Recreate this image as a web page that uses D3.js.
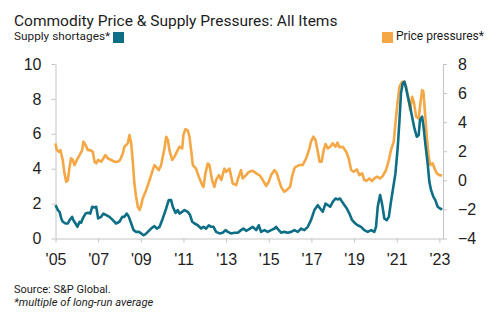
<!DOCTYPE html>
<html>
<head>
<meta charset="utf-8">
<script src="https://cdn.jsdelivr.net/npm/d3@7"></script>
<style>
  body { margin: 0; background: #fff; }
  .axis path, .axis line { stroke: #c4c4c4; }
  .axis text { font-family: "Liberation Sans", Arial, sans-serif; font-size: 16px; fill: #1e1e1e; }
</style>
</head>
<body>
<div id="chart"></div>
<script>
// supply shortages (left axis), multiple of long-run average
const supplyYears = [2005.00, 2005.11, 2005.19, 2005.27, 2005.34, 2005.47, 2005.58, 2005.66, 2005.78, 2005.84, 2005.94,
  2006.03, 2006.13, 2006.20, 2006.28, 2006.41, 2006.52, 2006.63, 2006.72, 2006.83, 2006.91,
  2007.00, 2007.14, 2007.25, 2007.38, 2007.53, 2007.69, 2007.84, 2008.00, 2008.13, 2008.23, 2008.34, 2008.44, 2008.55,
  2008.66, 2008.78, 2008.91, 2009.02, 2009.13, 2009.22, 2009.33, 2009.48, 2009.64, 2009.75, 2009.88,
  2010.03, 2010.19, 2010.31, 2010.42, 2010.50, 2010.63, 2010.73, 2010.81, 2010.94, 2011.05, 2011.20, 2011.31, 2011.41,
  2011.52, 2011.67, 2011.83, 2011.94, 2012.06, 2012.19, 2012.30, 2012.41, 2012.53, 2012.69, 2012.84, 2012.97,
  2013.08, 2013.23, 2013.39, 2013.55, 2013.70, 2013.81, 2013.94, 2014.06, 2014.25, 2014.41, 2014.53, 2014.64, 2014.80, 2014.95,
  2015.11, 2015.27, 2015.34, 2015.47, 2015.58, 2015.73, 2015.89, 2016.05, 2016.20, 2016.36, 2016.52, 2016.67, 2016.83, 2016.98,
  2017.14, 2017.30, 2017.41, 2017.53, 2017.66, 2017.77, 2017.88, 2018.00, 2018.13, 2018.23, 2018.34, 2018.44, 2018.55,
  2018.66, 2018.78, 2018.91, 2019.06, 2019.17, 2019.33, 2019.48, 2019.64, 2019.80, 2019.95, 2020.03, 2020.11, 2020.22,
  2020.31, 2020.42, 2020.53, 2020.63, 2020.73, 2020.84, 2020.94, 2021.05, 2021.13, 2021.20, 2021.28, 2021.36, 2021.44,
  2021.52, 2021.63, 2021.72, 2021.83, 2021.94, 2022.03, 2022.09, 2022.19, 2022.25, 2022.34, 2022.45, 2022.53, 2022.61,
  2022.72, 2022.81, 2022.92, 2023.03, 2023.13];
const supplyValues = [1.91, 1.63, 1.53, 1.15, 0.96, 0.86, 0.86, 1.05, 1.24, 1.05, 0.86,
  0.67, 0.96, 0.90, 1.15, 1.43, 1.47, 1.43, 1.82, 1.78, 1.82,
  1.15, 1.24, 1.43, 1.34, 1.24, 1.05, 0.86, 0.96, 1.24, 1.24, 1.43, 1.24, 0.86,
  0.48, 0.38, 0.38, 0.29, 0.19, 0.25, 0.38, 0.57, 0.71, 0.57, 0.67,
  1.15, 1.72, 2.20, 2.20, 1.82, 1.47, 1.63, 1.43, 1.53, 1.63, 1.53, 1.34, 0.96,
  0.86, 0.76, 0.57, 0.67, 0.57, 0.76, 0.67, 0.67, 0.38, 0.29, 0.33, 0.48,
  0.38, 0.29, 0.33, 0.33, 0.48, 0.57, 0.44, 0.52, 0.67, 0.48, 0.76, 0.38, 0.48, 0.38,
  0.48, 0.57, 0.67, 0.48, 0.33, 0.38, 0.33, 0.38, 0.48, 0.38, 0.57, 0.48, 0.67, 1.05,
  1.63, 1.91, 1.72, 1.53, 2.00, 1.91, 1.82, 2.10, 2.29, 2.24, 2.29, 2.10, 1.91,
  1.72, 1.43, 1.05, 0.86, 0.76, 0.67, 0.48, 0.38, 0.48, 0.38, 0.67, 1.82, 2.49,
  2.00, 1.15, 1.05, 1.24, 2.10, 2.96, 3.73, 5.26, 6.79, 8.32, 8.89, 8.99, 8.60,
  8.13, 7.55, 6.98, 6.31, 5.83, 5.93, 6.79, 6.98, 6.50, 5.45, 4.30, 3.25, 2.77,
  2.39, 2.20, 1.82, 1.72, 1.66];

// price pressures (right axis)
const priceYears = [2005.00, 2005.06, 2005.16, 2005.23, 2005.34, 2005.42, 2005.50, 2005.58, 2005.66, 2005.73, 2005.81, 2005.89,
  2006.00, 2006.13, 2006.25, 2006.31, 2006.41, 2006.52, 2006.63, 2006.75, 2006.83, 2006.91,
  2007.00, 2007.14, 2007.25, 2007.34, 2007.45, 2007.61, 2007.77, 2007.92, 2008.03, 2008.16, 2008.23, 2008.39, 2008.47, 2008.55,
  2008.63, 2008.70, 2008.78, 2008.86, 2008.94, 2009.02, 2009.09, 2009.25, 2009.41, 2009.56, 2009.64, 2009.72, 2009.84, 2009.95,
  2010.03, 2010.11, 2010.19, 2010.27, 2010.34, 2010.47, 2010.58, 2010.69, 2010.81, 2010.94, 2011.00, 2011.09, 2011.20, 2011.28,
  2011.36, 2011.44, 2011.59, 2011.72, 2011.88, 2011.94, 2012.03, 2012.14, 2012.22, 2012.34, 2012.45, 2012.53, 2012.66, 2012.77,
  2012.92, 2013.00, 2013.16, 2013.31, 2013.47, 2013.59, 2013.70, 2013.78, 2013.94, 2014.06, 2014.25, 2014.41, 2014.56, 2014.72,
  2014.88, 2015.00, 2015.11, 2015.27, 2015.38, 2015.50, 2015.61, 2015.73, 2015.84, 2016.00, 2016.09, 2016.20, 2016.28, 2016.44,
  2016.59, 2016.75, 2016.91, 2016.98, 2017.09, 2017.19, 2017.30, 2017.38, 2017.48, 2017.56, 2017.66, 2017.77, 2017.88, 2018.00,
  2018.13, 2018.22, 2018.31, 2018.47, 2018.63, 2018.75, 2018.86, 2018.98, 2019.13, 2019.25, 2019.38, 2019.48, 2019.59, 2019.72,
  2019.84, 2019.95, 2020.08, 2020.22, 2020.34, 2020.50, 2020.63, 2020.73, 2020.86, 2020.97, 2021.05, 2021.13, 2021.25, 2021.36,
  2021.44, 2021.52, 2021.63, 2021.72, 2021.80, 2021.91, 2022.03, 2022.11, 2022.19, 2022.25, 2022.34, 2022.41, 2022.50, 2022.58,
  2022.69, 2022.77, 2022.88, 2023.00, 2023.13];
const priceValues = [2.54, 2.08, 1.96, 2.08, 1.40, 0.48, -0.10, 0.02, 0.92, 1.52, 1.40, 1.04,
  1.40, 1.74, 2.08, 2.66, 2.42, 2.08, 2.08, 1.96, 1.28, 1.16,
  1.40, 1.28, 1.52, 1.74, 1.52, 1.40, 1.28, 1.28, 1.40, 1.86, 2.31, 2.54, 3.12, 2.54,
  1.16, -0.22, -1.13, -1.82, -2.04, -1.71, -1.25, -0.68, 0.02, 0.70, 1.04, 0.92, 0.70, 1.04,
  1.62, 2.19, 3.00, 2.77, 2.08, 1.40, 1.62, 1.96, 2.31, 2.19, 3.12, 3.52, 3.44, 3.00,
  2.08, 1.04, 0.80, 0.25, -0.33, -0.45, 0.48, 1.16, 1.04, 0.02, -0.45, 0.02, 0.36, 0.02,
  0.80, 0.58, 0.80, -0.22, -0.33, 0.25, 0.70, 0.13, 0.36, 0.58, 0.66, 0.48, 0.36, 0.02,
  -0.39, -0.10, 0.36, 0.71, 0.48, -0.10, -0.55, -0.78, -0.67, -0.44, 0.25, 0.82, 0.94, 1.05,
  1.05, 1.50, 2.20, 2.66, 3.00, 2.77, 1.97, 1.28, 1.28, 1.97, 2.50, 2.20, 2.31, 2.54,
  2.31, 2.59, 2.27, 2.31, 1.97, 1.50, 0.71, 0.59, 0.75, 0.36, 0.48, 0.02, -0.03, 0.13,
  -0.05, 0.13, 0.25, 0.13, 0.29, 0.71, 1.39, 2.08, 2.66, 4.38, 5.52, 6.44, 6.78, 6.78,
  6.44, 5.87, 4.83, 5.75, 5.41, 4.38, 4.26, 5.29, 6.20, 6.10, 4.38, 3.00, 1.62, 1.05,
  1.17, 0.82, 0.48, 0.36, 0.34];

const xTickYears = [2005, 2007, 2009, 2011, 2013, 2015, 2017, 2019, 2021, 2023];
const leftTicks = [0, 2, 4, 6, 8, 10];
const rightTicks = [-4, -2, 0, 2, 4, 6, 8];

const supplyColor = '#0d6e86';
const priceColor = '#f4a744';

const width = 500, height = 321;
const plot = { left: 55.5, right: 443, top: 64, bottom: 238.5 };

const svg = d3.select('#chart').append('svg')
    .attr('width', width)
    .attr('height', height);

svg.append('rect').attr('width', width).attr('height', height).attr('fill', '#fff');

const xScale = d3.scaleLinear().domain([2005, 2023.17]).range([plot.left, plot.right]);
const yLeft = d3.scaleLinear().domain([0, 10]).range([plot.bottom, plot.top]);
const yRight = d3.scaleLinear().domain([-4, 8]).range([plot.bottom, plot.top]);

// axes
svg.append('g')
    .attr('class', 'axis')
    .attr('transform', `translate(0, ${plot.bottom})`)
    .call(d3.axisBottom(xScale).tickValues(xTickYears).tickSize(4).tickSizeOuter(0).tickPadding(11)
        .tickFormat((d) => "'" + String(d).slice(2)));
svg.append('g')
    .attr('class', 'axis')
    .attr('transform', `translate(${plot.left}, 0)`)
    .call(d3.axisLeft(yLeft).tickValues(leftTicks).tickSize(4).tickSizeOuter(0).tickPadding(10));
svg.append('g')
    .attr('class', 'axis')
    .attr('transform', `translate(${plot.right}, 0)`)
    .call(d3.axisRight(yRight).tickValues(rightTicks).tickSize(4).tickSizeOuter(0).tickPadding(11));

// lines
const priceLine = d3.line()
    .x((d, i) => xScale(priceYears[i]))
    .y((d) => yRight(d));
const supplyLine = d3.line()
    .x((d, i) => xScale(supplyYears[i]))
    .y((d) => yLeft(d));

svg.append('path')
    .datum(priceValues)
    .attr('d', priceLine)
    .attr('fill', 'none')
    .attr('stroke', priceColor)
    .attr('stroke-width', 2.6)
    .attr('stroke-linejoin', 'round');
svg.append('path')
    .datum(supplyValues)
    .attr('d', supplyLine)
    .attr('fill', 'none')
    .attr('stroke', supplyColor)
    .attr('stroke-width', 2.6)
    .attr('stroke-linejoin', 'round');

// title and legend
const font = 'Roboto, "Liberation Sans", sans-serif';
svg.append('text')
    .attr('x', 14).attr('y', 26)
    .attr('font-family', font).attr('font-size', 15.5).attr('fill', '#1c1c1c')
    .text('Commodity Price & Supply Pressures: All Items');

svg.append('text')
    .attr('x', 14).attr('y', 40)
    .attr('font-family', font).attr('font-size', 11.8).attr('fill', '#1c1c1c')
    .text('Supply shortages*');
svg.append('rect')
    .attr('x', 113).attr('y', 32).attr('width', 11).attr('height', 11)
    .attr('fill', supplyColor);

svg.append('rect')
    .attr('x', 382).attr('y', 32).attr('width', 11).attr('height', 11)
    .attr('fill', priceColor);
svg.append('text')
    .attr('x', 396).attr('y', 40)
    .attr('font-family', font).attr('font-size', 12).attr('fill', '#1c1c1c')
    .text('Price pressures*');

// footnotes
svg.append('text')
    .attr('x', 14).attr('y', 292.5)
    .attr('font-family', font).attr('font-size', 11).attr('fill', '#1c1c1c')
    .text('Source: S&P Global.');
svg.append('text')
    .attr('x', 14).attr('y', 305.5)
    .attr('font-family', font).attr('font-size', 11.2).attr('font-style', 'italic').attr('fill', '#1c1c1c')
    .text('*multiple of long-run average');
</script>
</body>
</html>
